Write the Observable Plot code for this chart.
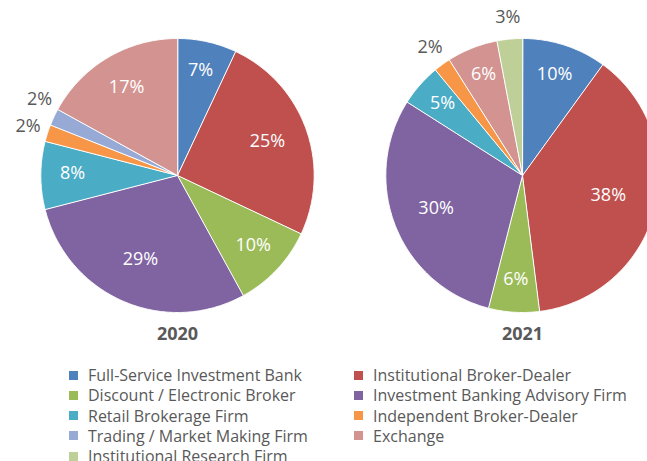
<!DOCTYPE html>
<html><head><meta charset="utf-8">
<script src="https://cdn.jsdelivr.net/npm/d3@7"></script>
<script src="https://cdn.jsdelivr.net/npm/@observablehq/plot@0.6"></script>
<style>
html,body{margin:0;padding:0;background:#fff;overflow:hidden;width:647px;height:461px}
#chart svg{max-width:none !important;}
</style></head>
<body><div id="chart"></div>
<script>
const categories = ["Full-Service Investment Bank","Institutional Broker-Dealer","Discount / Electronic Broker","Investment Banking Advisory Firm","Retail Brokerage Firm","Independent Broker-Dealer","Trading / Market Making Firm","Exchange","Institutional Research Firm"];
const colors = ["#4F81BD","#C0504D","#9BBB59","#8064A2","#4BACC6","#F79646","#97AAD5","#D39391","#BED097"];
const years = ["2020","2021"];
const values2020 = [7,25,10,29,8,2,2,17,0];
const values2021 = [10,38,6,30,5,2,0,6,3];

const series = {"2020": values2020, "2021": values2021};
const PX = 137; // pixels per radius unit
const pts = [], labels = [];
for (const yr of years) {
  let cum = 0, prevOut = null;
  series[yr].forEach((v, i) => {
    if (v <= 0) return;
    const a0 = 2*Math.PI*cum/100, a1 = 2*Math.PI*(cum+v)/100;
    const key = yr + "-" + i;
    pts.push({yr, key, cat: categories[i], x: 0, y: 0});
    const n = Math.max(2, Math.ceil((a1-a0)/(Math.PI/360)));
    for (let k = 0; k <= n; k++) {
      const a = a0 + (a1-a0)*k/n;
      pts.push({yr, key, cat: categories[i], x: Math.sin(a), y: Math.cos(a)});
    }
    let am = (a0+a1)/2;
    const inside = v >= 4;
    const r = inside ? 0.8 - 0.004*v : 1.15;
    if (!inside) {
      if (prevOut && Math.abs(am - prevOut.a) < 0.4) {
        let guard = 0;
        while (Math.abs(r*Math.cos(am) - prevOut.y)*PX < 26 && guard++ < 60) am += Math.PI/360;
      }
    }
    const lab = {yr, inside, text: v + "%", x: r*Math.sin(am), y: r*Math.cos(am), a: am};
    if (!inside) prevOut = lab;
    labels.push(lab);
    cum += v;
  });
}

const H = 346;
const plot = Plot.plot({
  width: 687, height: H,
  marginLeft: 12, marginRight: 0, marginTop: 0, marginBottom: 0,
  style: {fontFamily: "'Open Sans', sans-serif", background: "#fff", overflow: "visible"},
  fx: {domain: years, paddingInner: 0.0491, paddingOuter: 0, axis: null},
  x: {domain: [-1.2, 1.2], axis: null},
  y: {domain: [-(H-175)/PX, 175/PX], axis: null},
  color: {domain: categories, range: colors},
  marks: [
    Plot.line(pts, {fx: "yr", x: "x", y: "y", z: "key", fill: "cat", stroke: "#fff", strokeWidth: 1, curve: "linear-closed"}),
    Plot.text(labels.filter(d => d.inside), {fx: "yr", x: "x", y: "y", text: "text", fill: "#fff", fontSize: 18, dy: -2}),
    Plot.text(labels.filter(d => !d.inside), {fx: "yr", x: "x", y: "y", text: "text", fill: "#595959", fontSize: 18, dy: -1}),
    Plot.text(years, {fx: d => d, text: d => d, frameAnchor: "bottom", dy: -7, fill: "#595959", fontSize: 18, fontWeight: "bold"})
  ]
});
document.getElementById("chart").appendChild(plot);

const legend = Plot.legend({color: {domain: categories, range: colors}, swatchSize: 9});
legend.style.cssText = "display:grid;grid-template-columns:285px 285px;margin:19px 0 0 69px;font-family:'Open Sans',sans-serif;font-size:16px;color:#595959;min-height:0;";
legend.querySelectorAll("span").forEach(s => {
  s.style.margin = "0"; s.style.height = "20.25px"; s.style.display = "flex"; s.style.alignItems = "center"; s.style.whiteSpace = "nowrap";
  const sv = s.querySelector("svg"); if (sv) sv.style.marginRight = "10px";
});
document.body.appendChild(legend);
</script>
</body></html>
